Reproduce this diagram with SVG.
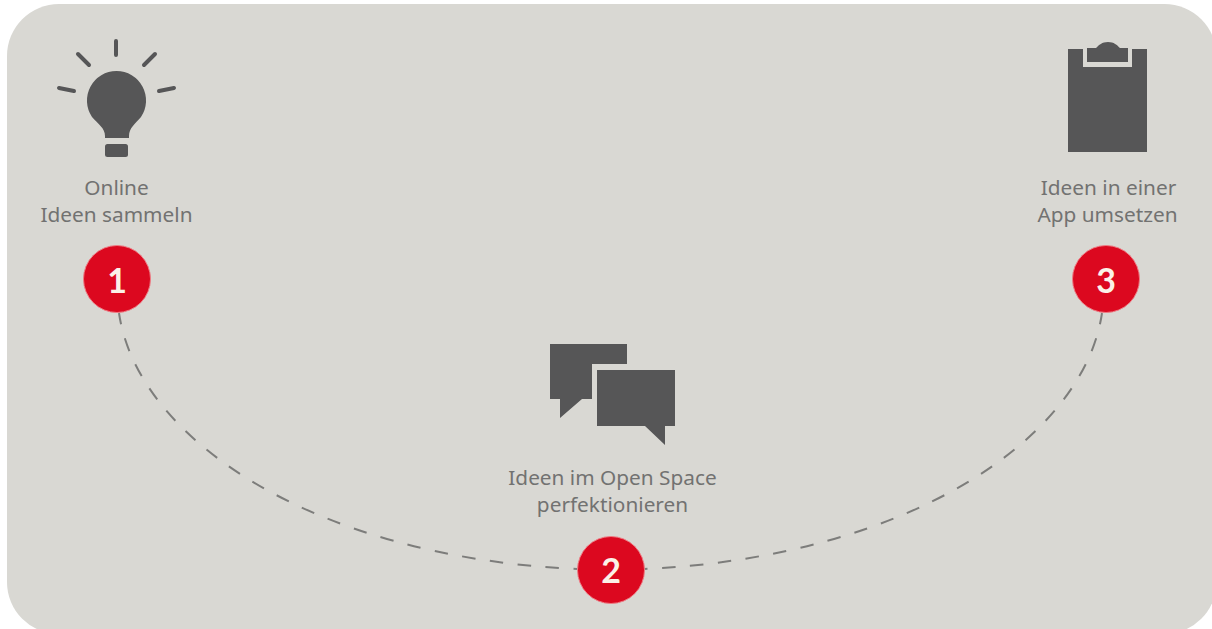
<svg xmlns="http://www.w3.org/2000/svg" width="1212" height="629" viewBox="0 0 1212 629">
<style>
.ic{fill:#565657}
.ray{stroke:#565657;stroke-width:4;stroke-linecap:round;fill:none}
.lb{font-family:"Noto Sans","Open Sans",sans-serif;font-size:20.800px;fill:#727271;text-anchor:middle}
.dot{fill:#dc081f;stroke:#ee7c84;stroke-width:1}
.num{font-family:Lato,"Noto Sans",sans-serif;font-size:34px;font-weight:700;fill:#fbf1e8;text-anchor:middle}
.dash{fill:none;stroke:#7d7d7b;stroke-width:2;stroke-dasharray:13.500 14.500;stroke-dashoffset:2}
</style>
<rect width="1212" height="629" fill="#ffffff"/>
<rect id="card" x="7" y="4" width="1209.500" height="630" rx="52" ry="52" fill="#d9d8d3"/>
<g id="connectors">
<path class="dash" d="M119 313C137 438 312 557 577 569"/>
<path class="dash" d="M1102 313C1084 438 909 557 644 569"/>
</g>
<g id="node1">
<path class="ic" d="M116.500 71A29.500 29.500 0 0 1 141 117C135 124 129 128 129 136V138H105V136C105 128 98 124 92 117A29.500 29.500 0 0 1 116.500 71Z"/>
<rect class="ic" x="105" y="144" width="23" height="13" rx="2.500"/>
<path class="ray" d="M116 41V55M78 54L89 65M155 54L144 65M59 88L74 91M174 88L159 91"/>
<text class="lb" x="116.500" y="195">Online</text>
<text class="lb" x="116.500" y="222">Ideen sammeln</text>
<circle class="dot" cx="117" cy="279" r="33.500"/>
<text class="num" x="117" y="293">1</text>
</g>
<g id="node2">
<path class="ic" d="M550 344H627V364H592V399H582L560 418V399H550Z"/>
<path class="ic" d="M597 370H675V426H665V445L645 426H597Z"/>
<text class="lb" x="612.500" y="485">Ideen im Open Space</text>
<text class="lb" x="612.500" y="512">perfektionieren</text>
<circle class="dot" cx="611" cy="570" r="33.500"/>
<text class="num" x="611" y="583">2</text>
</g>
<g id="node3">
<rect class="ic" x="1068" y="49" width="79" height="103"/>
<rect x="1083" y="48" width="49" height="19" fill="#d9d8d3"/>
<path class="ic" d="M1087 48H1096C1099 45 1102 42 1108 42C1114 42 1117 45 1120 48H1128V62H1087Z"/>
<text class="lb" x="1108.500" y="195">Ideen in einer</text>
<text class="lb" x="1107.500" y="222">App umsetzen</text>
<circle class="dot" cx="1106" cy="279" r="33.500"/>
<text class="num" x="1106" y="293">3</text>
</g>
</svg>
